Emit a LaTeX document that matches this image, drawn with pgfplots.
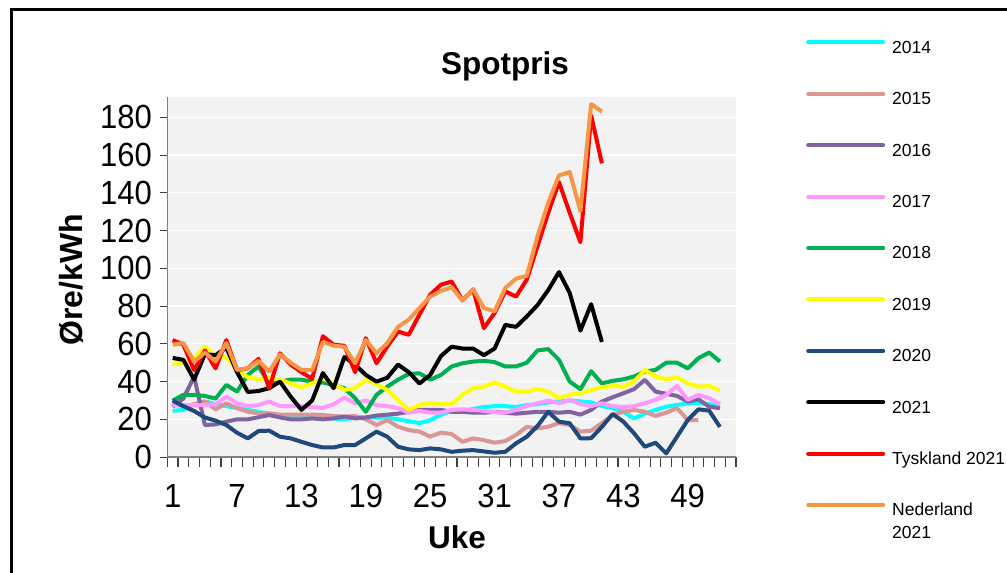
\documentclass[border=0pt]{standalone}
\usepackage{fontspec}
\setmainfont{Liberation Sans}
\usepackage{graphicx}
\usepackage{pgfplots}
\pgfplotsset{compat=1.18}
\definecolor{c2014}{HTML}{00FFFF}
\definecolor{c2015}{HTML}{D99694}
\definecolor{c2016}{HTML}{8064A2}
\definecolor{c2017}{HTML}{FF99FF}
\definecolor{c2018}{HTML}{00B050}
\definecolor{c2019}{HTML}{FFFF00}
\definecolor{c2020}{HTML}{1F497D}
\definecolor{c2021}{HTML}{000000}
\definecolor{cTy}{HTML}{FF0000}
\definecolor{cNl}{HTML}{F79646}
\definecolor{plotbg}{HTML}{F2F2F2}
\definecolor{axisgray}{HTML}{808080}
\definecolor{tickgray}{HTML}{404040}
\begin{document}
\begin{tikzpicture}[x=1bp,y=1bp]
\useasboundingbox (0,0) rectangle (1007,573);
\draw[line width=3bp] (11,-10) -- (11,563) -- (1030,563);
\begin{axis}[
  at={(167.3bp,115.9bp)}, anchor=south west, scale only axis,
  width=568.7bp, height=359.8bp,
  xmin=0.5, xmax=53.5, ymin=0, ymax=190.6,
  axis background/.style={fill=plotbg},
  axis x line*=bottom, axis y line*=left,
  axis line style={draw=axisgray, line width=1.2bp, -},
  xtick={1,7,...,49}, minor xtick={0.5,1.5,...,53.5},
  ytick={0,20,...,180},
  xtick align=outside, ytick align=outside,
  major x tick style={draw=none},
  minor tick length=10bp, major tick length=7bp,
  tick style={draw=tickgray, line width=1.1bp},
  ymajorgrids, grid style={white, line width=1.2bp},
  /pgf/number format/assume math mode=true,
  xticklabel={\scalebox{1}[1.08]{\pgfmathprintnumber{\tick}}},
  yticklabel={\scalebox{1}[1.08]{\pgfmathprintnumber{\tick}}},
  xticklabel style={font=\fontsize{31bp}{36bp}\selectfont, yshift=-17bp},
  yticklabel style={font=\fontsize{31bp}{36bp}\selectfont, xshift=-5bp},
  title={Spotpris},
  title style={font=\bfseries\fontsize{31.5bp}{36bp}\selectfont, at={(axis description cs:0.5938,1.070)}, anchor=center},
  xlabel={Uke},
  xlabel style={font=\bfseries\fontsize{31.5bp}{36bp}\selectfont, at={(axis description cs:0.5094,-0.2221)}, anchor=center},
  ylabel={Øre/kWh},
  ylabel style={font=\bfseries\fontsize{32bp}{36bp}\selectfont, at={(axis description cs:-0.168,0.4922)}, anchor=center},
  every axis plot/.append style={line width=4bp, no markers, line join=round},
  legend cell align=left,
  legend style={at={(axis description cs:1.1143,1.1645)}, anchor=north west, draw=none, fill=none,
    font=\fontsize{17.5bp}{23bp}\selectfont,
    nodes={inner sep=0pt, text height=13bp, text depth=4bp},
    row sep=34.4bp, column sep=7bp},
  legend image code/.code={\path (0bp,0bp); \draw[#1, line width=4bp, line cap=round] (2bp,6.3bp) -- (77bp,6.3bp);},
]
\addplot[c2014] coordinates {(1,24.5)(2,25)(3,28)(4,29.5)(5,28)(6,27)(7,26)(8,25)(9,24)(10,23)(11,22.3)(12,22)(13,22)(14,22)(15,21)(16,20.5)(17,20)(18,21)(19,21)(20,21)(21,21)(22,20)(23,19)(24,18)(25,19.5)(26,22.5)(27,24.5)(28,24)(29,25.5)(30,26.5)(31,27)(32,27)(33,26.5)(34,27.5)(35,28)(36,29)(37,29.5)(38,30)(39,29.5)(40,29)(41,27)(42,26)(43,24)(44,20.5)(45,23)(46,25)(47,26.7)(48,27.6)(49,28.5)(50,28.8)(51,28)(52,27)};
\addlegendentry{2014}
\addplot[c2015] coordinates {(1,28)(2,27)(3,28)(4,29.4)(5,25.3)(6,28.5)(7,25.9)(8,24)(9,23.2)(10,23.2)(11,22.5)(12,22.5)(13,22.5)(14,22.5)(15,22.3)(16,21.8)(17,21.4)(18,21.8)(19,20)(20,17)(21,19.6)(22,16.1)(23,14.3)(24,13.5)(25,10.8)(26,13)(27,12.2)(28,8.1)(29,9.9)(30,9)(31,7.6)(32,8.5)(33,11.7)(34,16)(35,15.2)(36,16.1)(37,18)(38,17)(39,13.5)(40,14)(41,18)(42,22.3)(43,24)(44,25)(45,24)(46,21.8)(47,23.5)(48,26)(49,19.6)(50,19.6)};
\addlegendentry{2015}
\addplot[c2016] coordinates {(1,26.7)(2,31)(3,42.7)(4,17)(5,17.3)(6,18.8)(7,20)(8,20)(9,21.1)(10,22.3)(11,21)(12,20)(13,20)(14,20.5)(15,20)(16,20.5)(17,21.5)(18,20.5)(19,21)(20,22)(21,22.5)(22,23)(23,24)(24,25)(25,25)(26,25)(27,24)(28,24)(29,23.5)(30,23.5)(31,24)(32,23.5)(33,23)(34,23.5)(35,24)(36,24)(37,23.5)(38,24)(39,22.5)(40,25)(41,29.4)(42,31.7)(43,33.8)(44,36)(45,40.9)(46,34.7)(47,33.5)(48,32.4)(49,29.4)(50,30.6)(51,26.7)(52,25.9)};
\addlegendentry{2016}
\addplot[c2017] coordinates {(1,27.5)(2,27.5)(3,27.5)(4,27.5)(5,28)(6,32)(7,28.5)(8,27)(9,27.5)(10,29.5)(11,27)(12,27)(13,27)(14,26.5)(15,26)(16,28)(17,31.5)(18,28.5)(19,30)(20,27.5)(21,27)(22,26)(23,23.5)(24,24.5)(25,23.5)(26,23.5)(27,25)(28,25.3)(29,25)(30,24.5)(31,23.8)(32,23.5)(33,25)(34,27)(35,28.5)(36,29.9)(37,28.5)(38,30.3)(39,28.1)(40,27)(41,28.5)(42,27)(43,26.5)(44,27)(45,28.5)(46,30.3)(47,33)(48,37.7)(49,30.3)(50,33)(51,31.2)(52,28.1)};
\addlegendentry{2017}
\addplot[c2018] coordinates {(1,29.9)(2,33)(3,33)(4,32.4)(5,31)(6,38.2)(7,34.7)(8,43.5)(9,48)(10,39)(11,40)(12,41)(13,41)(14,40)(15,39.5)(16,38.2)(17,36.5)(18,31.2)(19,24)(20,33)(21,37.3)(22,41)(23,44)(24,44.4)(25,41)(26,43.5)(27,48)(28,49.7)(29,50.6)(30,51)(31,50.3)(32,48)(33,48)(34,50)(35,56.5)(36,57.2)(37,51.5)(38,40)(39,36)(40,45.5)(41,39)(42,40.4)(43,41.2)(44,42.7)(45,45.3)(46,46.2)(47,50)(48,50)(49,47)(50,52.4)(51,55.4)(52,50.6)};
\addlegendentry{2018}
\addplot[c2019] coordinates {(1,49)(2,50)(3,52)(4,58.5)(5,53.6)(6,53)(7,46.2)(8,42.3)(9,41.2)(10,42)(11,41)(12,39)(13,37)(14,39)(15,41.8)(16,39)(17,35.6)(18,36.5)(19,41)(20,38.6)(21,35.6)(22,30.3)(23,25)(24,27.6)(25,28.5)(26,28.1)(27,28)(28,33)(29,36.5)(30,37.3)(31,39.5)(32,37.3)(33,34.7)(34,34.7)(35,36)(36,34.7)(37,31.2)(38,33)(39,33.8)(40,35.5)(41,37)(42,37.7)(43,37.3)(44,40)(45,46.2)(46,42.7)(47,41.2)(48,42.3)(49,39)(50,37.3)(51,37.7)(52,35.2)};
\addlegendentry{2019}
\addplot[c2020] coordinates {(1,29.9)(2,27)(3,24.4)(4,21)(5,19.3)(6,17)(7,12.9)(8,9.9)(9,13.8)(10,14)(11,10.8)(12,9.9)(13,8.1)(14,6.4)(15,5.1)(16,5.1)(17,6.4)(18,6.4)(19,9.9)(20,13.5)(21,10.8)(22,5.5)(23,4.1)(24,3.7)(25,4.6)(26,4.1)(27,2.8)(28,3.4)(29,3.7)(30,3)(31,2.3)(32,2.8)(33,7.3)(34,10.8)(35,16.5)(36,24)(37,18.8)(38,17.9)(39,9.9)(40,10)(41,16)(42,22.8)(43,18.8)(44,12.6)(45,5.5)(46,7.6)(47,2)(48,10.8)(49,19.6)(50,25.3)(51,24.6)(52,16)};
\addlegendentry{2020}
\addplot[c2021] coordinates {(1,52.5)(2,51.5)(3,41)(4,54.5)(5,54)(6,58)(7,45)(8,34.5)(9,35)(10,36.5)(11,40)(12,32)(13,25)(14,30)(15,44.5)(16,36.5)(17,53)(18,49)(19,43.5)(20,40)(21,42)(22,49)(23,45)(24,39)(25,43.5)(26,53.5)(27,58.5)(28,57.5)(29,57.5)(30,54)(31,57.5)(32,70)(33,69)(34,74.5)(35,80.5)(36,88.5)(37,98)(38,87)(39,67)(40,81)(41,61)};
\addlegendentry{2021}
\addplot[cTy] coordinates {(1,62)(2,59.5)(3,46)(4,56.5)(5,47)(6,62)(7,46)(8,47)(9,52)(10,36.5)(11,55)(12,49)(13,45)(14,41.5)(15,64)(16,59.5)(17,59)(18,45)(19,63)(20,49.7)(21,58.6)(22,66.5)(23,64.8)(24,75.5)(25,86)(26,91.3)(27,93)(28,83)(29,88.7)(30,68.3)(31,76.3)(32,87.8)(33,85)(34,94)(35,111.7)(36,129.4)(37,145.7)(38,129.4)(39,113.8)(40,181)(41,155.6)};
\addlegendentry{Tyskland 2021}
\addplot[cNl] coordinates {(1,59.5)(2,60.4)(3,50.6)(4,55.4)(5,50.6)(6,60.4)(7,46.2)(8,47)(9,51)(10,45.3)(11,54.4)(12,50)(13,46.2)(14,46)(15,61)(16,59)(17,58.4)(18,49.7)(19,62)(20,55)(21,60.4)(22,69)(23,72.8)(24,79)(25,85)(26,88)(27,90)(28,83)(29,89)(30,79)(31,77.2)(32,89.6)(33,94.5)(34,96)(35,117)(36,134.7)(37,149.2)(38,151)(39,130.3)(40,187)(41,183)};
\addlegendentry{\begin{tabular}[t]{@{}l@{}}Nederland\\2021\end{tabular}}
\end{axis}
\end{tikzpicture}
\end{document}
